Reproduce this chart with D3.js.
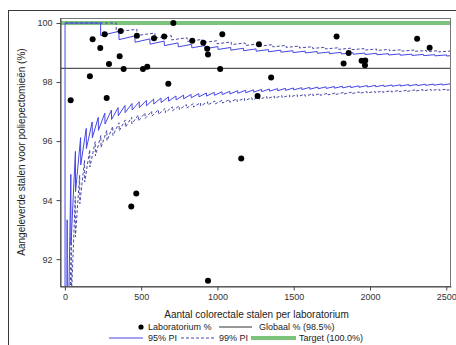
<!DOCTYPE html>
<html>
<head>
<meta charset="utf-8">
<script src="https://cdn.jsdelivr.net/npm/d3@7"></script>
<style>
  body { margin: 0; background: #fff; }
  svg { display: block; font-family: "Liberation Sans", Arial, sans-serif; }
</style>
</head>
<body>
<div id="chart"></div>
<script>
// Laboratories: number of samples and % delivered
var labN   = [38, 182, 164, 232, 261, 289, 274, 366, 359, 385, 472, 512, 540, 584, 651, 678, 711,
              835, 907, 933, 938, 1018, 1032, 1272, 1781, 1860, 1827, 1945, 1969, 1967, 2309, 2391,
              1352, 1263, 435, 468, 938, 1156];
var labPct = [97.38, 99.45, 98.20, 99.15, 99.62, 98.61, 97.46, 99.73, 98.87, 98.44, 99.57, 98.44, 98.52,
              99.48, 99.54, 97.94, 100, 99.40, 99.33, 99.13, 98.93, 98.44, 99.62, 99.28, 99.54, 98.98,
              98.63, 98.72, 98.73, 98.57, 99.47, 99.16, 98.15, 97.53, 93.78, 94.22, 91.27, 95.41];

var globalPct = 98.46;
var targetPct = 100;

// prediction limits, [n, %]
var upper95 = [[1,100],[234,100],[235,99.574],[354,99.718],[355,99.437],[459,99.564],[460,99.348],[557,99.461],
  [558,99.283],[651,99.386],[652,99.233],[742,99.326],[743,99.192],[831,99.278],[832,99.159],[918,99.237],
  [919,99.129],[1003,99.202],[1004,99.104],[1087,99.172],[1088,99.081],[1170,99.145],[1171,99.061],[1253,99.122],
  [1254,99.043],[1334,99.100],[1335,99.026],[1415,99.081],[1416,99.011],[1495,99.064],[1496,98.997],[1575,99.048],
  [1576,98.985],[1654,99.033],[1655,98.973],[1733,99.019],[1734,98.962],[1811,99.006],[1812,98.951],[1889,98.994],
  [1890,98.942],[1966,98.983],[1967,98.932],[2044,98.973],[2045,98.924],[2121,98.963],[2122,98.916],[2197,98.953],
  [2198,98.908],[2274,98.945],[2275,98.901],[2350,98.936],[2351,98.894],[2425,98.928],[2426,98.887],[2501,98.920],
  [2502,98.881],[2530,98.893]];

var upper99 = [[1,100],[336,100],[337,99.703],[472,99.788],[473,99.577],[590,99.661],[591,99.492],[698,99.570],
  [699,99.428],[801,99.501],[802,99.377],[900,99.444],[901,99.334],[996,99.398],[997,99.298],[1090,99.358],
  [1091,99.267],[1182,99.323],[1183,99.239],[1273,99.293],[1274,99.215],[1362,99.266],[1363,99.193],[1450,99.241],
  [1451,99.173],[1537,99.219],[1538,99.155],[1623,99.199],[1624,99.138],[1708,99.180],[1709,99.122],[1793,99.163],
  [1794,99.108],[1877,99.148],[1878,99.095],[1960,99.133],[1961,99.082],[2043,99.119],[2044,99.070],[2126,99.106],
  [2127,99.060],[2208,99.094],[2209,99.049],[2289,99.083],[2290,99.039],[2370,99.072],[2371,99.030],[2451,99.062],
  [2452,99.021],[2530,99.051]];

var lower95 = [[1,100],[2,50],[15,93.333],[16,87.5],[39,94.872],[40,92.5],[69,95.652],[70,94.286],[103,96.117],
  [104,95.192],[140,96.429],[141,95.745],[179,96.648],[180,96.111],[219,96.804],[220,96.364],[262,96.947],
  [263,96.578],[305,97.049],[306,96.732],[349,97.135],[350,96.857],[394,97.208],[395,96.962],[440,97.273],
  [441,97.052],[487,97.331],[488,97.131],[534,97.378],[535,97.196],[582,97.423],[583,97.256],[630,97.460],
  [631,97.306],[679,97.496],[680,97.353],[728,97.527],[729,97.394],[778,97.558],[779,97.433],[827,97.582],
  [828,97.464],[878,97.608],[879,97.497],[928,97.629],[929,97.524],[979,97.651],[980,97.551],[1030,97.670],
  [1031,97.575],[1081,97.687],[1082,97.597],[1133,97.705],[1134,97.619],[1185,97.722],[1186,97.639],[1237,97.736],
  [1238,97.657],[1289,97.750],[1290,97.674],[1341,97.763],[1342,97.690],[1394,97.776],[1395,97.706],[1446,97.787],
  [1447,97.719],[1499,97.799],[1500,97.733],[1552,97.809],[1553,97.746],[1605,97.819],[1606,97.758],[1659,97.830],
  [1660,97.771],[1712,97.839],[1713,97.782],[1766,97.848],[1767,97.793],[1820,97.857],[1821,97.803],[1873,97.864],
  [1874,97.812],[1927,97.872],[1928,97.822],[1982,97.881],[1983,97.832],[2036,97.888],[2037,97.840],[2090,97.895],
  [2091,97.848],[2145,97.902],[2146,97.856],[2199,97.908],[2200,97.864],[2254,97.915],[2255,97.871],[2308,97.920],
  [2309,97.878],[2364,97.927],[2365,97.886],[2418,97.932],[2419,97.892],[2473,97.938],[2474,97.898],[2528,97.943],
  [2529,97.904],[2530,97.905]];

var lower99 = [[1,0],[6,83.333],[7,71.429],[21,90.476],[22,86.364],[42,92.857],[43,90.698],[68,94.118],[69,92.754],
  [97,94.845],[98,93.878],[129,95.349],[130,94.615],[163,95.706],[164,95.122],[199,95.980],[200,95.5],[236,96.186],
  [237,95.781],[275,96.364],[276,96.014],[314,96.497],[315,96.190],[355,96.620],[356,96.348],[396,96.717],
  [397,96.474],[438,96.804],[439,96.583],[481,96.881],[482,96.680],[525,96.952],[526,96.768],[569,97.012],
  [570,96.842],[613,97.064],[614,96.906],[658,97.112],[659,96.965],[704,97.159],[705,97.021],[749,97.196],
  [750,97.067],[796,97.236],[797,97.114],[842,97.268],[843,97.153],[889,97.300],[890,97.191],[936,97.329],
  [937,97.225],[984,97.358],[985,97.259],[1032,97.384],[1033,97.289],[1080,97.407],[1081,97.317],[1128,97.429],
  [1129,97.343],[1177,97.451],[1178,97.368],[1226,97.471],[1227,97.392],[1275,97.490],[1276,97.414],[1324,97.508],
  [1325,97.434],[1373,97.524],[1374,97.453],[1423,97.540],[1424,97.472],[1473,97.556],[1474,97.490],[1523,97.571],
  [1524,97.507],[1573,97.584],[1574,97.522],[1625,97.600],[1626,97.540],[1673,97.609],[1674,97.551],[1724,97.622],
  [1725,97.565],[1775,97.634],[1776,97.579],[1826,97.645],[1827,97.592],[1877,97.656],[1878,97.604],[1929,97.667],
  [1930,97.617],[1980,97.677],[1981,97.627],[2032,97.687],[2033,97.639],[2084,97.697],[2085,97.650],[2139,97.709],
  [2140,97.664],[2191,97.718],[2192,97.673],[2243,97.726],[2244,97.683],[2295,97.734],[2296,97.692],[2347,97.742],
  [2348,97.700],[2400,97.750],[2401,97.709],[2453,97.758],[2454,97.718],[2505,97.764],[2506,97.725],[2530,97.747]];

var xTicks = [0, 500, 1000, 1500, 2000, 2500];
var yTicks = [92, 94, 96, 98, 100];

var chart_width = 456;
var chart_height = 345;
var plotL = 60, plotT = 18, plotR = 451, plotB = 286;

var svg = d3.select('#chart')
  .append('svg')
  .attr('width', chart_width)
  .attr('height', chart_height);

// outer frame
svg.append('rect')
  .attr('x', 8.5).attr('y', 10.5)
  .attr('width', 470).attr('height', 360)
  .attr('fill', 'none')
  .attr('stroke', '#3a3a3a');

var xScale = d3.scaleLinear().domain([-32, 2531]).range([plotL, plotR]);
var yScale = d3.scaleLinear().domain([91.09, 100.17]).range([plotB, plotT]);

svg.append('clipPath').attr('id', 'plotclip')
  .append('rect')
  .attr('x', plotL).attr('y', plotT)
  .attr('width', plotR - plotL).attr('height', plotB - plotT);

var plot = svg.append('g').attr('clip-path', 'url(#plotclip)');

// target line
plot.append('line')
  .attr('x1', plotL).attr('x2', plotR)
  .attr('y1', yScale(targetPct)).attr('y2', yScale(targetPct))
  .attr('stroke', '#7cc47c')
  .attr('stroke-width', 4);

// global line
plot.append('line')
  .attr('x1', plotL).attr('x2', plotR)
  .attr('y1', yScale(globalPct)).attr('y2', yScale(globalPct))
  .attr('stroke', '#555')
  .attr('stroke-width', 1.2);

var line = d3.line()
  .x(function (d) { return xScale(d[0]); })
  .y(function (d) { return yScale(d[1]); });

[upper99, lower99].forEach(function (s) {
  plot.append('path')
    .attr('d', line(s))
    .attr('fill', 'none')
    .attr('stroke', '#4a4aa8')
    .attr('stroke-width', 1)
    .attr('stroke-dasharray', '3,2');
});

[upper95, lower95].forEach(function (s) {
  plot.append('path')
    .attr('d', line(s))
    .attr('fill', 'none')
    .attr('stroke', '#4646e6')
    .attr('stroke-width', 1);
});

// labs
plot.selectAll('circle')
  .data(d3.range(labN.length))
  .enter()
  .append('circle')
  .attr('cx', function (i) { return xScale(labN[i]); })
  .attr('cy', function (i) { return yScale(labPct[i]); })
  .attr('r', 3)
  .attr('fill', '#000');

// plot border
svg.append('rect')
  .attr('x', plotL + 0.5).attr('y', plotT + 0.5)
  .attr('width', plotR - plotL - 1).attr('height', plotB - plotT)
  .attr('fill', 'none')
  .attr('stroke', '#777');

// axes
var xAxis = svg.append('g')
  .attr('transform', 'translate(0,' + (plotB + 0.5) + ')')
  .call(d3.axisBottom(xScale).tickValues(xTicks).tickFormat(d3.format('d'))
    .tickSize(4).tickSizeOuter(0).tickPadding(3));
var yAxis = svg.append('g')
  .attr('transform', 'translate(' + (plotL + 0.5) + ',0)')
  .call(d3.axisLeft(yScale).tickValues(yTicks).tickFormat(d3.format('d'))
    .tickSize(4).tickSizeOuter(0).tickPadding(4));

[xAxis, yAxis].forEach(function (a) {
  a.select('.domain').attr('stroke', '#444');
  a.selectAll('.tick line').attr('stroke', '#444');
  a.selectAll('.tick text')
    .attr('font-size', 9)
    .attr('font-family', '"Liberation Sans", Arial, sans-serif')
    .attr('fill', '#333');
});

// axis titles
svg.append('text')
  .attr('x', (plotL + plotR) / 2 + 1)
  .attr('y', 317.5)
  .attr('text-anchor', 'middle')
  .attr('font-size', 10)
  .attr('fill', '#222')
  .text('Aantal colorectale stalen per laboratorium');

svg.append('text')
  .attr('transform', 'translate(25,' + ((plotT + plotB) / 2) + ') rotate(-90)')
  .attr('text-anchor', 'middle')
  .attr('font-size', 10)
  .attr('fill', '#222')
  .text('Aangeleverde stalen voor poliepectomieën (%)');

// legend
var lg = svg.append('g').attr('font-size', 9).attr('fill', '#222');
var row1 = 327, row2 = 338;

lg.append('circle').attr('cx', 141).attr('cy', row1).attr('r', 2.6).attr('fill', '#000');
lg.append('text').attr('x', 148).attr('y', row1 + 3).text('Laboratorium %');
lg.append('line').attr('x1', 219).attr('x2', 252).attr('y1', row1).attr('y2', row1)
  .attr('stroke', '#333').attr('stroke-width', 1);
lg.append('text').attr('x', 259).attr('y', row1 + 3).text('Globaal % (98.5%)');

lg.append('line').attr('x1', 109).attr('x2', 143).attr('y1', row2).attr('y2', row2)
  .attr('stroke', '#4646e6').attr('stroke-width', 1);
lg.append('text').attr('x', 148).attr('y', row2 + 3).text('95% PI');
lg.append('line').attr('x1', 181).attr('x2', 214).attr('y1', row2).attr('y2', row2)
  .attr('stroke', '#4a4aa8').attr('stroke-width', 1).attr('stroke-dasharray', '3,2');
lg.append('text').attr('x', 219).attr('y', row2 + 3).text('99% PI');
lg.append('line').attr('x1', 251).attr('x2', 296).attr('y1', row2).attr('y2', row2)
  .attr('stroke', '#7cc47c').attr('stroke-width', 4);
lg.append('text').attr('x', 299).attr('y', row2 + 3).text('Target (' + targetPct.toFixed(1) + '%)');
</script>
</body>
</html>
